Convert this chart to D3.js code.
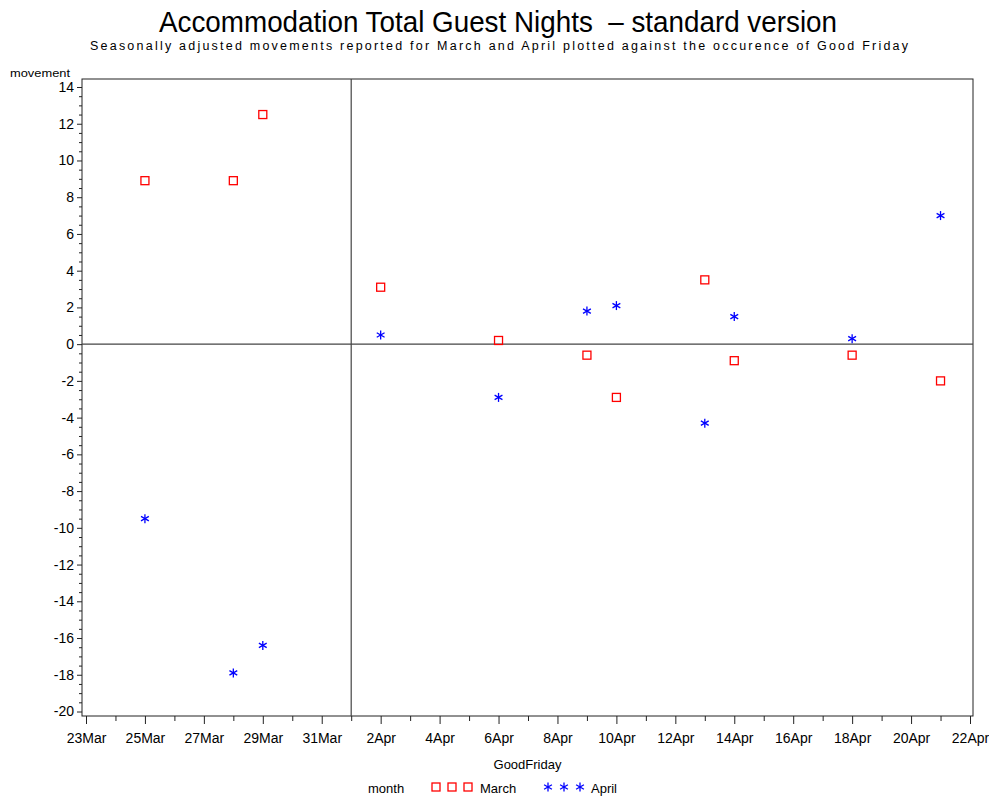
<!DOCTYPE html>
<html>
<head>
<meta charset="utf-8">
<script src="https://cdn.jsdelivr.net/npm/d3@7"></script>
<style>
  body { margin: 0; background: #fff; }
  text { font-family: "Liberation Sans", Arial, sans-serif; fill: #000; }
</style>
</head>
<body>
<svg id="chart" width="989" height="797"></svg>
<script>
// Data: day of the Good Friday vs. movement
const goodFriday = ["25Mar", "28Mar", "29Mar", "2Apr", "6Apr", "9Apr", "10Apr", "13Apr", "14Apr", "18Apr", "21Apr"];
const marchMovement = [8.9, 8.9, 12.5, 3.1, 0.2, -0.6, -2.9, 3.5, -0.9, -0.6, -2.0];
const aprilMovement = [-9.5, -17.9, -16.4, 0.5, -2.9, 1.8, 2.1, -4.3, 1.5, 0.3, 7.0];
const yTicks = d3.range(-20, 15, 2);
const xStart = "23Mar", xEnd = "22Apr", refDate = "1Apr";

const parseDay = d3.utcParse("%Y %d%b");
const toDate = (s) => parseDay("2000 " + s);
const fmtDay = d3.utcFormat("%-d%b");

const svg = d3.select("#chart");

// Plot frame
const frame = { left: 82, right: 973, top: 79, bottom: 716 };

// Scales
const x = d3.scaleUtc().domain([toDate(xStart), toDate(xEnd)]).range([86, 970]);
const y = d3.scaleLinear().domain([-20, 14]).range([711.5, 87]);

// Title + subtitle
svg.append("text")
  .attr("x", 498).attr("y", 32)
  .attr("text-anchor", "middle")
  .attr("textLength", 678)
  .attr("lengthAdjust", "spacingAndGlyphs")
  .style("font-size", "30px")
  .text("Accommodation Total Guest Nights\u00a0\u00a0\u2013\u00a0standard version");

svg.append("text")
  .attr("x", 499).attr("y", 50)
  .attr("text-anchor", "middle")
  .attr("textLength", 818)
  .style("font-size", "12.5px")
  .text("Seasonally adjusted movements reported for March and April plotted against the occurence of Good Friday");

// y axis label
svg.append("text")
  .attr("x", 10).attr("y", 77)
  .style("font-size", "11px")
  .attr("textLength", 60)
  .attr("lengthAdjust", "spacingAndGlyphs")
  .text("movement");

// Frame
svg.append("rect")
  .attr("x", frame.left).attr("y", frame.top)
  .attr("width", frame.right - frame.left)
  .attr("height", frame.bottom - frame.top)
  .attr("fill", "none")
  .attr("stroke", "#222")
  .attr("stroke-width", 1);

// Reference lines: zero and Good Friday on 1 April
svg.append("line")
  .attr("x1", frame.left).attr("x2", frame.right)
  .attr("y1", y(0)).attr("y2", y(0))
  .attr("stroke", "#444").attr("stroke-width", 1.2);

svg.append("line")
  .attr("x1", x(toDate(refDate))).attr("x2", x(toDate(refDate)))
  .attr("y1", frame.top).attr("y2", frame.bottom)
  .attr("stroke", "#444").attr("stroke-width", 1.2);

// Y axis (major + minor)
const yAxis = svg.append("g")
  .attr("transform", `translate(${frame.left},0)`)
  .call(d3.axisLeft(y).tickValues(yTicks).tickSize(5).tickPadding(3).tickFormat((d) => String(d)));
yAxis.select(".domain").remove();
yAxis.selectAll("text").style("font-size", "14px");

const yMinor = svg.append("g")
  .attr("transform", `translate(${frame.left},0)`)
  .call(d3.axisLeft(y).tickValues(d3.range(-20, 14.01, 0.5).filter((v) => v % 2 !== 0)).tickSize(3).tickFormat(""));
yMinor.select(".domain").remove();

// X axis (major every 2 days, minor every day)
const xMajor = d3.utcDay.range(toDate(xStart), d3.utcDay.offset(toDate(xEnd), 1), 2);
const xAll = d3.utcDay.range(toDate(xStart), d3.utcDay.offset(toDate(xEnd), 1), 1);

const xAxis = svg.append("g")
  .attr("transform", `translate(0,${frame.bottom})`)
  .call(d3.axisBottom(x).tickValues(xMajor).tickSize(8).tickPadding(9).tickFormat(fmtDay));
xAxis.select(".domain").remove();
xAxis.selectAll("text").style("font-size", "14px");

const xMinor = svg.append("g")
  .attr("transform", `translate(0,${frame.bottom})`)
  .call(d3.axisBottom(x).tickValues(xAll.filter((d, i) => i % 2 === 1)).tickSize(5).tickFormat(""));
xMinor.select(".domain").remove();

svg.selectAll(".tick line").attr("stroke", "#222");

// x axis label
svg.append("text")
  .attr("x", (frame.left + frame.right) / 2).attr("y", 769)
  .attr("text-anchor", "middle")
  .style("font-size", "13px")
  .text("GoodFriday");

// Symbols
const square = (g, cx, cy) => g.append("rect")
  .attr("x", cx - 4).attr("y", cy - 4)
  .attr("width", 8).attr("height", 8)
  .attr("fill", "none").attr("stroke", "#f00").attr("stroke-width", 1.3);

const star = (g, cx, cy) => {
  const r = 4.5;
  const p = [
    [0, -r, 0, r],
    [-r * 0.87, -r * 0.5, r * 0.87, r * 0.5],
    [-r * 0.87, r * 0.5, r * 0.87, -r * 0.5]
  ];
  p.forEach(([a, b, c, d]) => g.append("line")
    .attr("x1", cx + a).attr("y1", cy + b)
    .attr("x2", cx + c).attr("y2", cy + d)
    .attr("stroke", "#00f").attr("stroke-width", 1.3));
};

const pts = svg.append("g");
goodFriday.forEach((d, i) => {
  square(pts, x(toDate(d)), y(marchMovement[i]));
});
goodFriday.forEach((d, i) => {
  star(pts, x(toDate(d)), y(aprilMovement[i]));
});

// Legend
const leg = svg.append("g");
leg.append("text").attr("x", 368).attr("y", 793).style("font-size", "13px").text("month");
[436, 452, 468].forEach((cx) => square(leg, cx, 787));
leg.append("text").attr("x", 480).attr("y", 793).style("font-size", "13px").text("March");
[548, 564, 580].forEach((cx) => star(leg, cx, 787));
leg.append("text").attr("x", 591).attr("y", 793).style("font-size", "13px").text("April");
</script>
</body>
</html>
